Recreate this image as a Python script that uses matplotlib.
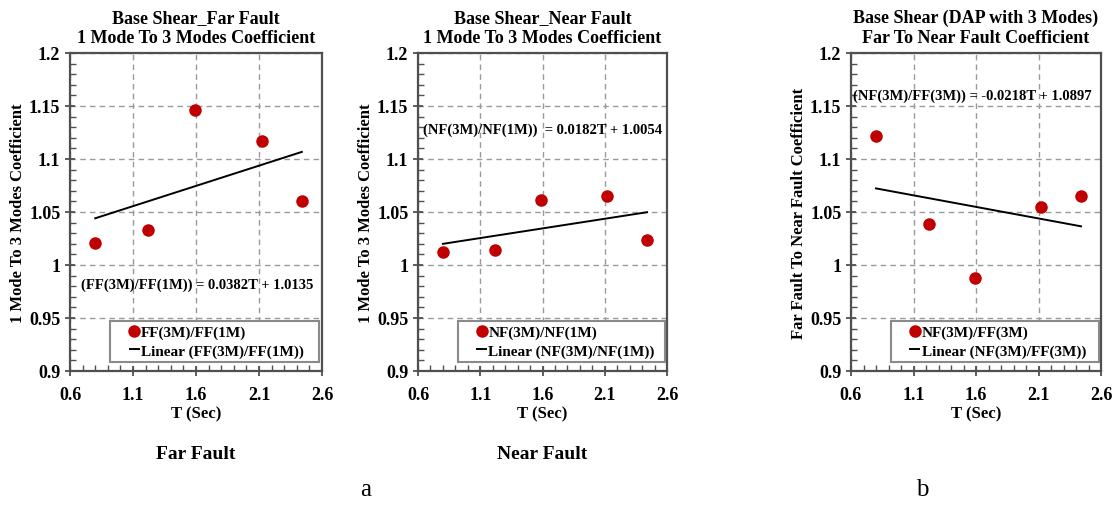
import matplotlib
matplotlib.use("Agg")
import matplotlib.pyplot as plt
from matplotlib.lines import Line2D
from matplotlib.patches import Rectangle
from matplotlib.ticker import MultipleLocator, FixedLocator
import numpy as np

plt.rcParams["font.family"] = ["Liberation Serif", "DejaVu Serif"]
plt.rcParams["font.weight"] = "bold"

# periods (sec) and coefficient ratios
T = [0.80, 1.22, 1.59, 2.12, 2.44]
ff_ratio = [1.021, 1.033, 1.146, 1.117, 1.060]
nf_ratio = [1.012, 1.014, 1.061, 1.065, 1.024]
nf_ff_ratio = [1.122, 1.039, 0.988, 1.055, 1.065]

# linear fits (slope, intercept) as reported on each panel
ff_fit = (0.0382, 1.0135)
nf_fit = (0.0182, 1.0054)
nf_ff_fit = (-0.0218, 1.0897)

x_ticks = [0.6, 1.1, 1.6, 2.1, 2.6]
y_ticks = [0.9, 0.95, 1.0, 1.05, 1.1, 1.15, 1.2]

titles = ["Base Shear_Far Fault\n1 Mode To 3 Modes Coefficient",
          "Base Shear_Near Fault\n1 Mode To 3 Modes Coefficient",
          "Base Shear (DAP with 3 Modes)\nFar To Near Fault Coefficient"]
ylabels = ["1 Mode To 3 Modes Coefficient",
           "1 Mode To 3 Modes Coefficient",
           "Far Fault To Near Fault Coefficient"]
series_names = ["FF(3M)/FF(1M)", "NF(3M)/NF(1M)", "NF(3M)/FF(3M)"]
eq_texts = ["(FF(3M)/FF(1M)) = 0.0382T + 1.0135",
            "(NF(3M)/NF(1M))  = 0.0182T + 1.0054",
            "(NF(3M)/FF(3M)) = -0.0218T + 1.0897"]
eq_pos = [(1.61, 0.982), (1.60, 1.128), (1.57, 1.160)]

RED = "#C00000"
SPINE = "#505050"

fig = plt.figure(figsize=(11.16, 5.06), dpi=100)
W, H = 1116, 506
boxes = [(70, 322), (418, 667), (851, 1101)]
top, bottom = 54, 372

data = [ff_ratio, nf_ratio, nf_ff_ratio]
fits = [ff_fit, nf_fit, nf_ff_fit]

for i, (x0, x1) in enumerate(boxes):
    ax = fig.add_axes([x0 / W, 1 - bottom / H, (x1 - x0) / W, (bottom - top) / H])
    ax.set_xlim(0.6, 2.6)
    ax.set_ylim(0.9, 1.2)
    ax.xaxis.set_major_locator(FixedLocator(x_ticks))
    ax.xaxis.set_minor_locator(MultipleLocator(0.1))
    ax.yaxis.set_major_locator(FixedLocator(y_ticks))
    ax.yaxis.set_minor_locator(MultipleLocator(0.01))
    ax.set_xticklabels([f"{v:g}" for v in x_ticks])
    ax.set_yticklabels([f"{v:g}" for v in y_ticks])
    ax.tick_params(which="major", direction="inout", length=7, width=1.3,
                   labelsize=13, color=SPINE)
    ax.tick_params(axis="x", which="major", pad=7)
    ax.tick_params(which="minor", direction="in", length=4, width=1.0,
                   color=SPINE)
    ax.tick_params(which="both", top=False, right=False)
    for sp in ax.spines.values():
        sp.set_color(SPINE)
        sp.set_linewidth(1.6)
    ax.grid(True, which="major", linestyle=(0, (4, 3)), color="#9a9a9a", lw=1.0)
    ax.set_axisbelow(True)

    ax.plot(T, data[i], "o", color=RED, markersize=8, zorder=4)
    slope, icpt = fits[i]
    tx = np.array([T[0], T[-1]])
    ax.plot(tx, slope * tx + icpt, color="black", lw=1.4, zorder=3)

    ax.text(eq_pos[i][0], eq_pos[i][1], eq_texts[i], ha="center", va="center",
            fontsize=10.5, fontweight="bold", zorder=5)

    ax.set_title(titles[i], fontsize=13, fontweight="bold", pad=8, linespacing=1.2)
    ax.set_ylabel(ylabels[i], fontsize=12, fontweight="bold", labelpad=2)
    ax.set_xlabel("T (Sec)", fontsize=12, fontweight="bold", labelpad=2)

    # legend frame drawn separately so it can span the panel width
    ax.add_patch(Rectangle((0.16, 0.028), 0.83, 0.129, transform=ax.transAxes,
                           facecolor="white", edgecolor="#8a8a8a", lw=1.5, zorder=5))
    handles = [Line2D([], [], marker="o", ls="none", color=RED, markersize=8),
               Line2D([], [], color="black", lw=1.4)]
    ax.legend(handles, [series_names[i], f"Linear ({series_names[i]})"],
              loc="center left", bbox_to_anchor=(0.2, 0.092), frameon=False,
              fontsize=11, handlelength=0.6, handletextpad=0.15,
              labelspacing=0.3, borderpad=0.1).set_zorder(6)

fig.text(196 / W, 1 - 455 / H, "Far Fault", ha="center", va="center",
         fontsize=14, fontweight="bold")
fig.text(542 / W, 1 - 455 / H, "Near Fault", ha="center", va="center",
         fontsize=14, fontweight="bold")
fig.text(366 / W, 1 - 490 / H, "a", ha="center", va="center",
         fontsize=18, fontweight="normal")
fig.text(922 / W, 1 - 490 / H, "b", ha="center", va="center",
         fontsize=18, fontweight="normal")

fig.savefig("out.png", dpi=100)
